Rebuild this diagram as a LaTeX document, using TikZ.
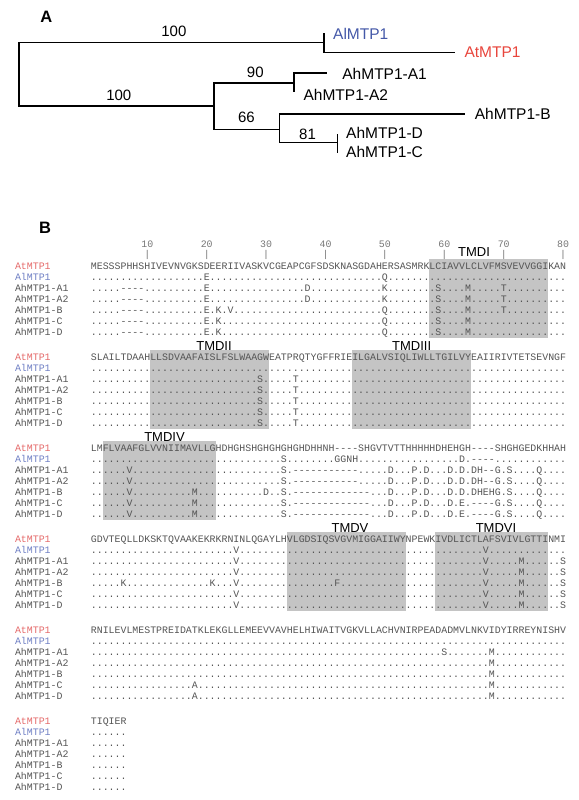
\documentclass[tikz,border=0pt]{standalone}
\usepackage{fontspec}
\setsansfont{Liberation Sans}
\newfontfamily\seqfont{Liberation Mono}
\usetikzlibrary{matrix}
\definecolor{TreeBlue}{HTML}{4458A8}
\definecolor{TreeRed}{HTML}{E8453C}
\definecolor{LabRed}{HTML}{E46A6A}
\definecolor{LabBlue}{HTML}{6F7FC4}
\definecolor{SeqGray}{HTML}{555555}
\definecolor{ShadeGray}{HTML}{C4C4C4}

\begin{document}
\begin{tikzpicture}[x=1pt,y=-1pt]
    \tikzset{TreeLine/.style = {line width=1.8pt,line cap=rect}}
    \tikzset{TreeLab/.style = {font=\sffamily\fontsize{15.5}{18}\selectfont,anchor=west,inner sep=0pt}}
    \tikzset{Boot/.style = {font=\sffamily\fontsize{15}{18}\selectfont,inner sep=0pt}}
    \tikzset{PanelLab/.style = {font=\sffamily\bfseries\fontsize{16.5}{19}\selectfont,inner sep=0pt}}
    \tikzset{SeqStyle/.style = {font=\seqfont\fontsize{9.9}{11}\selectfont,text=SeqGray,inner sep=0pt,text height=8pt,text depth=3pt,anchor=base west}}
    \tikzset{BlockStyle/.style = {matrix of nodes,nodes={SeqStyle},anchor=north west,inner sep=0pt,outer sep=0pt,row sep=0pt,column sep=22.44pt}}
    \tikzset{TickStyle/.style = {font=\seqfont\fontsize{9.9}{11}\selectfont,text=SeqGray!80,inner sep=0pt}}
    \tikzset{TmdBox/.style = {fill=ShadeGray}}
    \tikzset{TmdLab/.style = {font=\sffamily\fontsize{13}{15}\selectfont,inner sep=0pt}}

    \useasboundingbox (0,0) rectangle (578,800);

    % panel A : tree
    \node[PanelLab] (pa) at (46.3,16.7) {A};
    \coordinate (r1) at (19.2,42.5);
    \coordinate (r2) at (19.2,106.2);
    \coordinate (n1) at (324,42.5);
    \coordinate (n1a) at (324,34.1);
    \coordinate (n1b) at (324,52.5);
    \coordinate (atend) at (454.3,52.5);
    \coordinate (n2) at (213.9,106.2);
    \coordinate (n2a) at (213.9,83.3);
    \coordinate (n2b) at (213.9,129.5);
    \coordinate (n3) at (294.2,83.3);
    \coordinate (n3a) at (294.2,72.9);
    \coordinate (n3b) at (294.2,90.7);
    \coordinate (a1end) at (326.3,72.9);
    \coordinate (n4) at (279.4,129.5);
    \coordinate (n4a) at (279.4,114);
    \coordinate (n4b) at (279.4,142.4);
    \coordinate (bend) at (464.3,114);
    \coordinate (n5) at (337.4,142.4);
    \coordinate (n5a) at (337.4,135.1);
    \coordinate (n5b) at (337.4,152.4);

    \draw[TreeLine]
    (r1) -- (r2)
    (r1) -- (n1) (n1a) -- (n1b) (n1b) -- (atend)
    (r2) -- (n2) (n2a) -- (n2b)
    (n2a) -- (n3) (n3a) -- (n3b) (n3a) -- (a1end)
    (n2b) -- (n4) (n4a) -- (n4b) (n4a) -- (bend)
    (n4b) -- (n5) (n5a) -- (n5b);

    \node[TreeLab,text=TreeBlue] (al) at (333,34.1) {AlMTP1};
    \node[TreeLab,text=TreeRed] (at) at (464.3,52.5) {AtMTP1};
    \node[TreeLab] (a1) at (342.2,74) {AhMTP1-A1};
    \node[TreeLab] (a2) at (303.4,94.4) {AhMTP1-A2};
    \node[TreeLab] (b) at (474.7,114) {AhMTP1-B};
    \node[TreeLab] (d) at (346,132.4) {AhMTP1-D};
    \node[TreeLab] (c) at (346,152.4) {AhMTP1-C};

    \node[Boot] (bs1) at (173.9,31.4) {100};
    \node[Boot] (bs2) at (118.8,95.1) {100};
    \node[Boot] (bs3) at (255.3,72.2) {90};
    \node[Boot] (bs4) at (246.4,117.7) {66};
    \node[Boot] (bs5) at (307.5,134) {81};

    % panel B : alignment
    \node[PanelLab] (pb) at (45,228) {B};

    \fill[TmdBox] (429.48,259) rectangle (548.28,338);
    \fill[TmdBox] (150.3,350) rectangle (269.1,429);
    \fill[TmdBox] (352.26,350) rectangle (471.06,429);
    \fill[TmdBox] (102.78,441) rectangle (215.64,520);
    \fill[TmdBox] (286.92,532) rectangle (405.72,611);
    \fill[TmdBox] (435.42,532) rectangle (548.28,611);

    \node[TmdLab] (tm1) at (474,252) {TMDI};
    \node[TmdLab] (tm2) at (214,346) {TMDII};
    \node[TmdLab] (tm3) at (411.7,346) {TMDIII};
    \node[TmdLab] (tm4) at (164.5,437) {TMDIV};
    \node[TmdLab] (tm5) at (350,528) {TMDV};
    \node[TmdLab] (tm6) at (496,528) {TMDVI};

    \path
    (147.33,244) node[TickStyle] (t10) {10} (147.33,255) node[TickStyle] {|}
    (206.73,244) node[TickStyle] (t20) {20} (206.73,255) node[TickStyle] {|}
    (266.13,244) node[TickStyle] (t30) {30} (266.13,255) node[TickStyle] {|}
    (325.53,244) node[TickStyle] (t40) {40} (325.53,255) node[TickStyle] {|}
    (384.93,244) node[TickStyle] (t50) {50} (384.93,255) node[TickStyle] {|}
    (444.33,244) node[TickStyle] (t60) {60} (444.33,255) node[TickStyle] {|}
    (503.73,244) node[TickStyle] (t70) {70} (503.73,255) node[TickStyle] {|}
    (563.13,244) node[TickStyle] (t80) {80} (563.13,255) node[TickStyle] {|};

    \matrix [BlockStyle] (b1) at (15,261.3) {%
      |[text=LabRed]| AtMTP1 & {MESSSPHHSH}{IVEVNVGKSD}{EERIIVASKV}{CGEAPCGFSD}{SKNASGDAHE}{RSASMRKLCI}{AVVLCLVFMS}{VEVVGGIKAN} \\
      |[text=LabBlue]| AlMTP1 & {..........}{.........E}{..........}{..........}{.........Q}{..........}{..........}{..........} \\
      AhMTP1-A1 & {.....----.}{.........E}{..........}{......D...}{.........K}{........S.}{...M.....T}{..........} \\
      AhMTP1-A2 & {.....----.}{.........E}{..........}{......D...}{.........K}{........S.}{...M.....T}{..........} \\
      AhMTP1-B  & {.....----.}{.........E}{.K.V......}{..........}{.........Q}{........S.}{...M.....T}{..........} \\
      AhMTP1-C  & {.....----.}{.........E}{.K........}{..........}{.........Q}{........S.}{...M......}{..........} \\
      AhMTP1-D  & {.....----.}{.........E}{.K........}{..........}{.........Q}{........S.}{...M......}{..........} \\
    };

    \matrix [BlockStyle] (b2) at (15,352.3) {%
      |[text=LabRed]| AtMTP1 & {SLAILTDAAH}{LLSDVAAFAI}{SLFSLWAAGW}{EATPRQTYGF}{FRIEILGALV}{SIQLIWLLTG}{ILVYEAIIRI}{VTETSEVNGF} \\
      |[text=LabBlue]| AlMTP1 & {..........}{..........}{..........}{..........}{..........}{..........}{..........}{..........} \\
      AhMTP1-A1 & {..........}{..........}{........S.}{....T.....}{..........}{..........}{..........}{..........} \\
      AhMTP1-A2 & {..........}{..........}{........S.}{....T.....}{..........}{..........}{..........}{..........} \\
      AhMTP1-B  & {..........}{..........}{........S.}{....T.....}{..........}{..........}{..........}{..........} \\
      AhMTP1-C  & {..........}{..........}{........S.}{....T.....}{..........}{..........}{..........}{..........} \\
      AhMTP1-D  & {..........}{..........}{........S.}{....T.....}{..........}{..........}{..........}{..........} \\
    };

    \matrix [BlockStyle] (b3) at (15,443.3) {%
      |[text=LabRed]| AtMTP1 & {LMFLVAAFGL}{VVNIIMAVLL}{GHDHGHSHGH}{GHGHGHDHHN}{H----SHGVT}{VTTHHHHHDH}{EHGH----SH}{GHGEDKHHAH} \\
      |[text=LabBlue]| AlMTP1 & {..........}{..........}{..........}{..S.......}{.GGNH.....}{..........}{..D.----..}{..........} \\
      AhMTP1-A1 & {......V...}{..........}{..........}{..S.------}{-----.....}{D...P.D...}{D.D.DH--G.}{S....Q....} \\
      AhMTP1-A2 & {......V...}{..........}{..........}{..S.------}{-----.....}{D...P.D...}{D.D.DH--G.}{S....Q....} \\
      AhMTP1-B  & {......V...}{.......M..}{.........D}{..S.------}{-------...}{D...P.D...}{D.D.DHEHG.}{S....Q....} \\
      AhMTP1-C  & {......V...}{.......M..}{..........}{..S.------}{-------...}{D...P.D...}{D.E.----G.}{S....Q....} \\
      AhMTP1-D  & {......V...}{.......M..}{..........}{..S.------}{-------...}{D...P.D...}{D.E.----G.}{S....Q....} \\
    };

    \matrix [BlockStyle] (b4) at (15,534.3) {%
      |[text=LabRed]| AtMTP1 & {GDVTEQLLDK}{SKTQVAAKEK}{RKRNINLQGA}{YLHVLGDSIQ}{SVGVMIGGAI}{IWYNPEWKIV}{DLICTLAFSV}{IVLGTTINMI} \\
      |[text=LabBlue]| AlMTP1 & {..........}{..........}{....V.....}{..........}{..........}{..........}{......V...}{..........} \\
      AhMTP1-A1 & {..........}{..........}{....V.....}{..........}{..........}{..........}{......V...}{..M......S} \\
      AhMTP1-A2 & {..........}{..........}{....V.....}{..........}{..........}{..........}{......V...}{..M......S} \\
      AhMTP1-B  & {.....K....}{..........}{K...V.....}{..........}{.F........}{..........}{......V...}{..M......S} \\
      AhMTP1-C  & {..........}{..........}{....V.....}{..........}{..........}{..........}{......V...}{..M......S} \\
      AhMTP1-D  & {..........}{..........}{....V.....}{..........}{..........}{..........}{......V...}{..M......S} \\
    };

    \matrix [BlockStyle] (b5) at (15,625.3) {%
      |[text=LabRed]| AtMTP1 & {RNILEVLMES}{TPREIDATKL}{EKGLLEMEEV}{VAVHELHIWA}{ITVGKVLLAC}{HVNIRPEADA}{DMVLNKVIDY}{IRREYNISHV} \\
      |[text=LabBlue]| AlMTP1 & {..........}{..........}{..........}{..........}{..........}{..........}{..........}{..........} \\
      AhMTP1-A1 & {..........}{..........}{..........}{..........}{..........}{.........S}{.......M..}{..........} \\
      AhMTP1-A2 & {..........}{..........}{..........}{..........}{..........}{..........}{.......M..}{..........} \\
      AhMTP1-B  & {..........}{..........}{..........}{..........}{..........}{..........}{.......M..}{..........} \\
      AhMTP1-C  & {..........}{.......A..}{..........}{..........}{..........}{..........}{.......M..}{..........} \\
      AhMTP1-D  & {..........}{.......A..}{..........}{..........}{..........}{..........}{.......M..}{..........} \\
    };

    \matrix [BlockStyle] (b6) at (15,716.3) {%
      |[text=LabRed]| AtMTP1 & TIQIER \\
      |[text=LabBlue]| AlMTP1 & ...... \\
      AhMTP1-A1 & ...... \\
      AhMTP1-A2 & ...... \\
      AhMTP1-B  & ...... \\
      AhMTP1-C  & ...... \\
      AhMTP1-D  & ...... \\
    };
\end{tikzpicture}
\end{document}
